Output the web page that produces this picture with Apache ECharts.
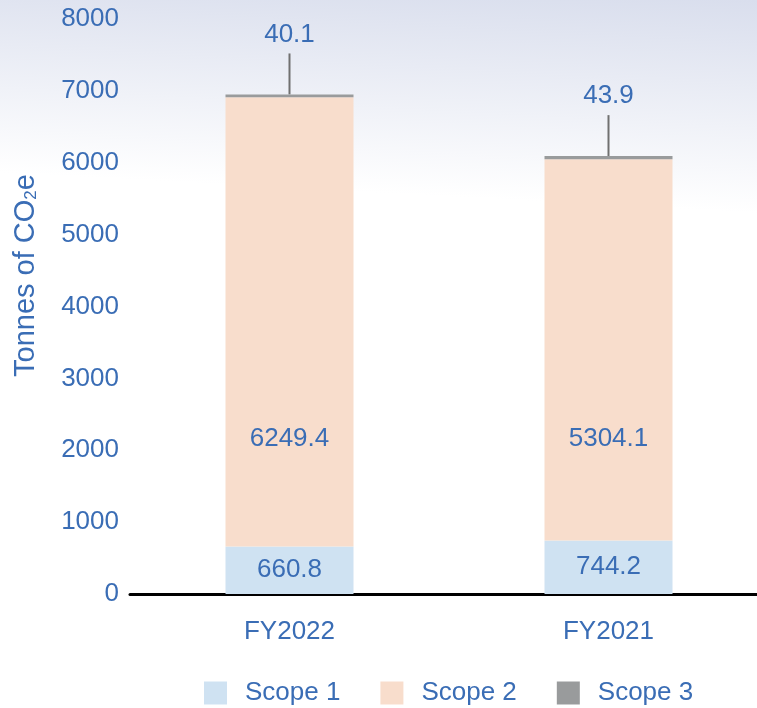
<!DOCTYPE html>
<html>
<head>
<meta charset="utf-8">
<script src="https://cdn.jsdelivr.net/npm/echarts@6/dist/echarts.min.js"></script>
<style>
html,body{margin:0;padding:0;background:#fff;}
#chart{width:757px;height:708px;}
</style>
</head>
<body>
<div id="chart"></div>
<script>
const categories = ['FY2022', 'FY2021'];
const scope1 = [660.8, 744.2];
const scope2 = [6249.4, 5304.1];
const scope3 = [40.1, 43.9];
const seriesNames = ['Scope 1', 'Scope 2', 'Scope 3'];
const yTicks = [0, 1000, 2000, 3000, 4000, 5000, 6000, 7000, 8000];

const blue = '#3a6db5';
const font = 'Liberation Sans, Arial, Helvetica, sans-serif';
const totals = categories.map((c, i) => scope1[i] + scope2[i] + scope3[i]);
const scope2LabelDist = [95, 89];

const chart = echarts.init(document.getElementById('chart'), null, {renderer: 'canvas'});
chart.setOption({
  backgroundColor: new echarts.graphic.LinearGradient(1, 0, 0.985, 0.3, [
    {offset: 0, color: '#d9deed'},
    {offset: 1, color: '#ffffff'}
  ]),
  animation: false,
  grid: {left: 130, width: 638, top: 19, bottom: 114, outerBoundsMode: 'none', containLabel: false},
  legend: {
    data: seriesNames,
    left: 199,
    top: 675,
    itemWidth: 23,
    itemHeight: 23,
    itemGap: 40,
    icon: 'rect',
    textStyle: {color: blue, fontSize: 26, fontFamily: font, padding: [0, 0, 0, 13]}
  },
  xAxis: {
    type: 'category',
    data: categories,
    axisLine: {lineStyle: {color: '#000', width: 3}},
    axisTick: {show: false},
    axisLabel: {color: blue, fontSize: 26, fontFamily: font, margin: 25}
  },
  yAxis: {
    type: 'value',
    min: yTicks[0],
    max: yTicks[yTicks.length - 1],
    interval: 1000,
    axisLine: {show: false},
    axisTick: {show: false},
    splitLine: {show: false},
    axisLabel: {color: blue, fontSize: 26, fontFamily: font, margin: 11, formatter: v => String(v)},
    name: '{a|Tonnes of CO}{b|2}{a|e}',
    nameLocation: 'middle',
    nameGap: 90,
    nameRotate: 90,
    nameTextStyle: {
      padding: [0, 0, 0, 62],
      rich: {
        a: {color: blue, fontSize: 29, fontFamily: font, lineHeight: 36, verticalAlign: 'bottom'},
        b: {color: blue, fontSize: 17, fontFamily: font, lineHeight: 12, verticalAlign: 'bottom'}
      }
    }
  },
  series: [
    {
      name: seriesNames[0], type: 'bar', stack: 'total', data: scope1, barWidth: 128,
      itemStyle: {color: '#cfe2f2'},
      label: {show: true, position: 'inside', color: blue, fontSize: 26, fontFamily: font}
    },
    {
      name: seriesNames[1], type: 'bar', stack: 'total', barWidth: 128,
      data: scope2.map((v, i) => ({value: v, label: {distance: scope2LabelDist[i]}})),
      itemStyle: {color: '#f8ddcc'},
      label: {show: true, position: 'insideBottom', color: blue, fontSize: 26, fontFamily: font}
    },
    {
      name: seriesNames[2], type: 'bar', stack: 'total', data: scope3, barWidth: 128,
      itemStyle: {color: '#999b9c'},
      label: {show: false}
    },
    {
      name: 'leader', type: 'custom', silent: true,
      data: categories.map((c, i) => [i, totals[i], scope3[i]]),
      renderItem: function (params, api) {
        const p = api.coord([api.value(0), api.value(1)]);
        return {
          type: 'group',
          children: [
            {type: 'line', shape: {x1: p[0], y1: p[1], x2: p[0], y2: p[1] - 41},
             style: {stroke: '#707070', lineWidth: 2}},
            {type: 'text', x: p[0], y: p[1] - 60,
             style: {text: String(api.value(2)), fill: blue, fontSize: 26, fontFamily: font,
                     align: 'center', verticalAlign: 'middle'}}
          ]
        };
      }
    }
  ]
});
</script>
</body>
</html>
